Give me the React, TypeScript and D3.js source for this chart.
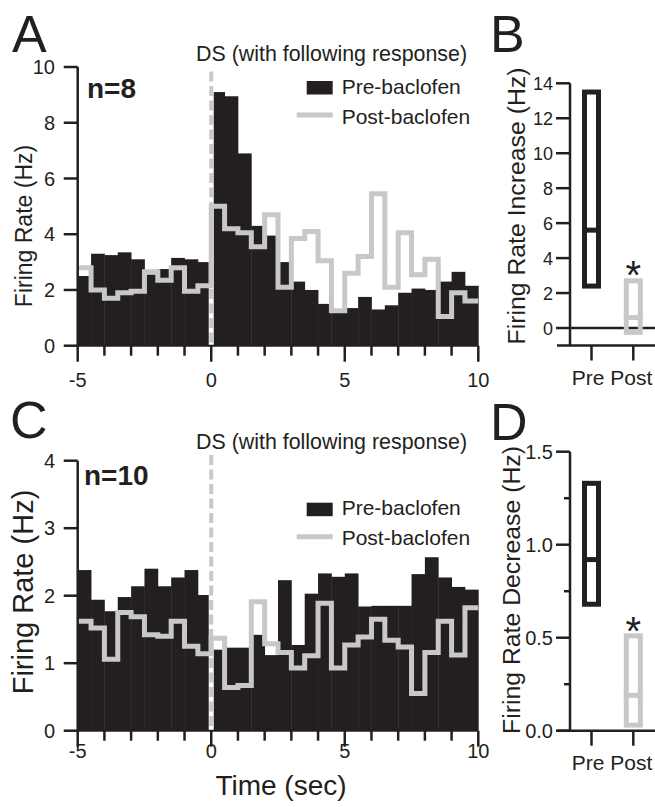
import React from "react";
import * as d3 from "d3";

// bin starts (0.5 s bins, -5 .. 10 s)
const binStarts = [
  -5, -4.5, -4, -3.5, -3, -2.5, -2, -1.5, -1, -0.5,
  0, 0.5, 1, 1.5, 2, 2.5, 3, 3.5, 4, 4.5,
  5, 5.5, 6, 6.5, 7, 7.5, 8, 8.5, 9, 9.5,
];
const binWidth = 0.5;

// panel A: DS with following response, excitation (n=8)
const preA = [
  2.5, 3.3, 3.25, 3.35, 3.1, 2.55, 2.75, 3.15, 3.1, 3.0,
  9.1, 8.95, 6.9, 4.3, 3.95, 3.0, 2.3, 2.0, 1.5, 1.25,
  1.35, 1.75, 1.3, 1.45, 1.9, 2.05, 2.0, 2.3, 2.65, 2.15,
];
const postA = [
  2.8, 2.0, 1.7, 1.9, 1.95, 2.65, 2.35, 2.8, 1.95, 2.15,
  5.0, 4.2, 4.05, 3.55, 4.7, 2.1, 3.85, 4.1, 3.05, 1.25,
  2.6, 3.2, 5.45, 2.1, 4.05, 2.55, 3.1, 1.05, 1.9, 1.6,
];

// panel C: DS with following response, inhibition (n=10)
const preC = [
  2.38, 1.94, 1.77, 1.98, 2.14, 2.4, 2.14, 2.27, 2.38, 2.01,
  1.2, 1.23, 1.23, 1.42, 1.12, 2.23, 1.27, 2.03, 2.33, 2.28,
  2.33, 1.84, 1.85, 1.85, 1.85, 2.32, 2.57, 2.27, 2.13, 2.09,
];
const postC = [
  1.62, 1.52, 1.06, 1.75, 1.69, 1.42, 1.4, 1.62, 1.25, 1.14,
  1.37, 0.64, 0.67, 1.91, 1.29, 1.16, 0.93, 1.11, 1.89, 0.93,
  1.27, 1.39, 1.65, 1.34, 1.24, 0.55, 1.16, 1.62, 1.12, 1.82,
];

const timeTicks = [-5, -4, -3, -2, -1, 0, 1, 2, 3, 4, 5, 6, 7, 8, 9, 10];
const timeLabels = [-5, 0, 5, 10];
const yTicksA = [0, 2, 4, 6, 8, 10];
const yTicksC = [0, 1, 2, 3, 4];

// panels B and D: box summaries [q1, median, q3]
const groups = ["Pre", "Post"];
const boxB = { Pre: [2.4, 5.6, 13.5], Post: [-0.25, 0.6, 2.7] };
const boxD = { Pre: [0.68, 0.92, 1.33], Post: [0.03, 0.19, 0.51] };
const yTicksB = [0, 2, 4, 6, 8, 10, 12, 14];
const yTicksD = [0, 0.5, 1, 1.5];
const yMinorD = [0.25, 0.75, 1.25];

const BLACK = "#231f20";
const GRAY = "#c8c8c8";
const FONT = "'Liberation Sans', Arial, Helvetica, sans-serif";

type HistProps = {
  pre: number[];
  post: number[];
  yMax: number;
  yTop: number;
  yBottom: number;
  yTicks: number[];
  yLabelSize: number;
  yLabelX: number;
  yLabelY: number;
  xLabelBaseline: number;
  nText: string;
  nX: number;
  nY: number;
  dsY: number;
  dashTop: number;
  legendY: number; // top of black swatch
  showTime?: boolean;
};

const x = d3.scaleLinear().domain([-5, 10]).range([77.7, 478.3]);

function HistPanel(p: HistProps) {
  const y = d3.scaleLinear().domain([0, p.yMax]).range([p.yBottom, p.yTop]);
  const y0 = y(0);
  const stepPts: [number, number][] = binStarts.map((b, i) => [b, p.post[i]]);
  stepPts.push([10, p.post[p.post.length - 1]]);
  const line = d3
    .line<[number, number]>()
    .x(d => x(d[0]))
    .y(d => y(d[1]))
    .curve(d3.curveStepAfter);
  const lx = 306.7;
  return (
    <g>
      {binStarts.map((b, i) => (
        <rect
          key={i}
          x={x(b)}
          y={y(p.pre[i])}
          width={x(b + binWidth) - x(b) + 0.4}
          height={y0 - y(p.pre[i])}
          fill={BLACK}
        />
      ))}
      {/* DS marker */}
      <line x1={x(0)} x2={x(0)} y1={p.dashTop} y2={y0} stroke="#fff" strokeWidth={5} />
      <line
        x1={x(0)}
        x2={x(0)}
        y1={p.dashTop}
        y2={y0}
        stroke={GRAY}
        strokeWidth={4}
        strokeDasharray="10 4.5"
      />
      <path d={line(stepPts) || ""} fill="none" stroke={GRAY} strokeWidth={5} strokeLinejoin="miter" />

      {/* y axis */}
      <line x1={x(-5)} x2={x(-5)} y1={y(p.yMax)} y2={y0} stroke={BLACK} strokeWidth={2.5} />
      {p.yTicks.map(t => (
        <g key={t}>
          <line x1={x(-5) - 14} x2={x(-5)} y1={y(t)} y2={y(t)} stroke={BLACK} strokeWidth={2.5} />
          <text x={55} y={y(t)} dy="0.36em" textAnchor="end" fontSize={20} fill={BLACK}>
            {t}
          </text>
        </g>
      ))}
      <text
        transform={`translate(${p.yLabelX},${p.yLabelY}) rotate(-90)`}
        textAnchor="middle"
        fontSize={p.yLabelSize}
        fill={BLACK}
      >
        Firing Rate (Hz)
      </text>

      {/* x axis */}
      <line x1={x(-5)} x2={x(10)} y1={y0} y2={y0} stroke={BLACK} strokeWidth={2} />
      {timeTicks.map(t => (
        <line
          key={t}
          x1={x(t)}
          x2={x(t)}
          y1={y0}
          y2={y0 + (t % 5 === 0 ? 16 : 10)}
          stroke={BLACK}
          strokeWidth={2.5}
        />
      ))}
      {timeLabels.map(t => (
        <text key={t} x={x(t)} y={p.xLabelBaseline} textAnchor="middle" fontSize={20} fill={BLACK}>
          {t}
        </text>
      ))}
      {p.showTime && (
        <text x={281} y={795} textAnchor="middle" fontSize={28} fill={BLACK}>
          Time (sec)
        </text>
      )}

      <text x={p.nX} y={p.nY} fontSize={28} fontWeight="bold" fill={BLACK}>
        {p.nText}
      </text>
      <text x={196} y={p.dsY} fontSize={21.4} fill={BLACK}>
        DS (with following response)
      </text>

      {/* legend */}
      <rect x={lx} y={p.legendY} width={26} height={13.5} fill={BLACK} />
      <text x={341.7} y={p.legendY + 12.5} fontSize={21} fill={BLACK}>
        Pre-baclofen
      </text>
      <line x1={296.7} x2={lx + 26} y1={p.legendY + 34} y2={p.legendY + 34} stroke={GRAY} strokeWidth={5} />
      <text x={341.7} y={p.legendY + 42.5} fontSize={21} fill={BLACK}>
        Post-baclofen
      </text>
    </g>
  );
}

type BoxProps = {
  boxes: Record<string, number[]>;
  domain: [number, number];
  yTop: number;
  yBottom: number;
  ticks: number[];
  minor?: number[];
  fmt: (v: number) => string;
  tickSize: number;
  label: string;
  labelX: number;
  labelY: number;
  zeroLine?: boolean;
  starTop: number;
};

const xb = d3.scalePoint<string>().domain(groups).range([591.5, 633.3]);

function BoxPanel(p: BoxProps) {
  const y = d3.scaleLinear().domain(p.domain).range([p.yBottom, p.yTop]);
  const axX = 570;
  const half = 7;
  return (
    <g>
      <line x1={axX} x2={axX} y1={p.yTop} y2={p.yBottom} stroke={BLACK} strokeWidth={2.5} />
      {p.ticks.map(t => (
        <g key={t}>
          <line x1={axX - 14} x2={axX} y1={y(t)} y2={y(t)} stroke={BLACK} strokeWidth={2.5} />
          <text x={553} y={y(t)} dy="0.36em" textAnchor="end" fontSize={p.tickSize} fill={BLACK}>
            {p.fmt(t)}
          </text>
        </g>
      ))}
      {(p.minor || []).map(t => (
        <line key={t} x1={axX - 6} x2={axX} y1={y(t)} y2={y(t)} stroke={BLACK} strokeWidth={2.5} />
      ))}
      {p.zeroLine && <line x1={axX} x2={655} y1={y(0)} y2={y(0)} stroke={BLACK} strokeWidth={2.5} />}
      <line x1={557} x2={655} y1={p.yBottom} y2={p.yBottom} stroke={BLACK} strokeWidth={2.5} />
      {groups.map(g => (
        <line key={g} x1={xb(g)} x2={xb(g)} y1={p.yBottom} y2={p.yBottom + 15} stroke={BLACK} strokeWidth={2.5} />
      ))}
      <text x={612} y={p.yBottom + 39} textAnchor="middle" fontSize={21} fill={BLACK}>
        Pre Post
      </text>
      {groups.map(g => {
        const [q1, med, q3] = p.boxes[g];
        const c = xb(g) as number;
        const col = g === "Pre" ? BLACK : GRAY;
        return (
          <g key={g}>
            <rect
              x={c - half}
              y={y(q3)}
              width={half * 2}
              height={y(q1) - y(q3)}
              fill="none"
              stroke={col}
              strokeWidth={5}
            />
            <line x1={c - half - 2.5} x2={c + half + 2.5} y1={y(med)} y2={y(med)} stroke={col} strokeWidth={5} />
          </g>
        );
      })}
      <text x={xb("Post")} y={p.starTop + 28.5} textAnchor="middle" fontSize={40} fill={BLACK}>
        *
      </text>
      <text
        transform={`translate(${p.labelX},${p.labelY}) rotate(-90)`}
        textAnchor="middle"
        fontSize={24.8}
        fill={BLACK}
      >
        {p.label}
      </text>
    </g>
  );
}

export default function App() {
  return (
    <svg
      width={655}
      height={807}
      style={{ position: "absolute", left: 0, top: 0, background: "#fff" }}
      fontFamily={FONT}
    >
      <rect width={655} height={807} fill="#fff" />
      <text x={12} y={52} fontSize={52} fill={BLACK}>A</text>
      <text x={490} y={52} fontSize={52} fill={BLACK}>B</text>
      <text x={10} y={438} fontSize={52} fill={BLACK}>C</text>
      <text x={490} y={440} fontSize={52} fill={BLACK}>D</text>

      <HistPanel
        pre={preA}
        post={postA}
        yMax={10}
        yTop={67}
        yBottom={345.7}
        yTicks={yTicksA}
        yLabelSize={23}
        yLabelX={32}
        yLabelY={226}
        xLabelBaseline={386.5}
        nText="n=8"
        nX={87}
        nY={98}
        dsY={61}
        dashTop={71.5}
        legendY={81}
      />
      <HistPanel
        pre={preC}
        post={postC}
        yMax={4}
        yTop={460.7}
        yBottom={730.7}
        yTicks={yTicksC}
        yLabelSize={29}
        yLabelX={33}
        yLabelY={592}
        xLabelBaseline={758}
        nText="n=10"
        nX={84}
        nY={485}
        dsY={448.5}
        dashTop={455}
        legendY={502.7}
        showTime
      />

      <BoxPanel
        boxes={boxB}
        domain={[-1, 14]}
        yTop={83.3}
        yBottom={345.5}
        ticks={yTicksB}
        fmt={v => String(v)}
        tickSize={18}
        label="Firing Rate Increase (Hz)"
        labelX={525}
        labelY={206}
        zeroLine
        starTop={260}
      />
      <BoxPanel
        boxes={boxD}
        domain={[0, 1.5]}
        yTop={451.7}
        yBottom={730.7}
        ticks={yTicksD}
        minor={yMinorD}
        fmt={v => v.toFixed(1)}
        tickSize={20}
        label="Firing Rate Decrease (Hz)"
        labelX={520}
        labelY={590}
        starTop={616.7}
      />
    </svg>
  );
}
